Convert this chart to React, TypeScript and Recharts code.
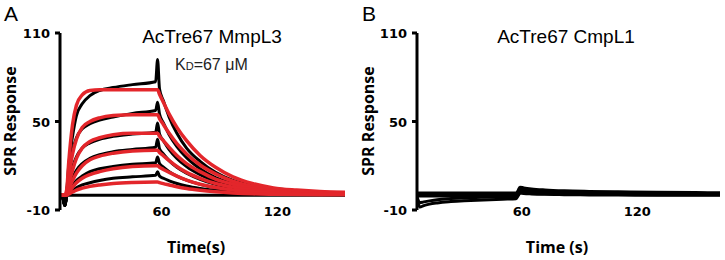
import React from "react"
import { LineChart, Line, XAxis, YAxis } from "recharts"

// Panel A: AcTre67 vs MmpL3 (black = measured, red = fit)
const timeA = [7.5, 9, 10, 11, 12, 14, 16, 19, 23, 28, 35, 45, 57, 58, 59, 61, 64, 68, 73, 80, 88, 97, 107, 118, 130, 142, 155]
const blackA = [
  [0, 0, 0, 0, 0, 0, 0, 0, 0, 0, 0, 0, 0, 0, 0, 0, 0, 0, 0, 0, 0, 0, 0, 0, 0, 0, 0],
  [0, -2, -7, 3, 20, 40, 54, 62, 67.5, 71, 73, 75, 77, 92, 72, 64, 53, 42, 32, 23, 15.5, 10, 6.5, 4.5, 3, 2, 1.5],
  [0, -2, -7, 2, 14, 30, 39, 45, 48.5, 51, 53, 55.5, 57.5, 63, 55, 49, 41, 33, 25.5, 18, 12, 8, 5.2, 3.5, 2.4, 1.7, 1.2],
  [0, -2, -7, 1, 8, 19, 26, 32, 35.5, 38, 40, 41.5, 42.7, 49, 41.5, 37, 31, 25, 19.5, 14, 9.5, 6.3, 4.2, 2.8, 1.9, 1.3, 1],
  [0, -2, -7, 0, 5, 12, 17, 21.5, 25, 27.5, 29.5, 31, 32.5, 38, 31.5, 28, 23.5, 19, 15, 10.8, 7.4, 5, 3.3, 2.2, 1.5, 1.1, 0.8],
  [0, -2, -7, 0, 3, 7, 10, 13, 16, 18, 19.5, 21, 22, 26, 21.5, 19, 16, 13, 10.2, 7.4, 5.1, 3.4, 2.3, 1.5, 1, 0.8, 0.6],
  [0, -2, -7, 0, 1, 3, 5, 7, 8.5, 10, 11.5, 12.5, 13.5, 16, 13, 11.5, 9.8, 8, 6.3, 4.6, 3.2, 2.2, 1.5, 1, 0.7, 0.5, 0.4],
]
const redA = [
  [0, 0, 0, 4, 22, 48, 61, 68, 71, 71.5, 71.5, 71.5, 71.5, 71.5, 68.5, 63, 55, 46, 37, 27, 19, 12.5, 8, 5, 3.5, 2.5, 2],
  [0, 0, 0, 2, 12, 28, 38, 46, 50, 52.5, 54, 54.5, 54.5, 54.5, 52, 48, 42, 35, 28, 20.5, 14.5, 9.5, 6, 4, 2.7, 2, 1.5],
  [0, 0, 0, 1, 7, 17, 25, 32, 36.5, 39, 41, 42, 42, 42, 40, 37, 32.5, 27, 21.5, 16, 11, 7.5, 4.8, 3, 2, 1.5, 1.2],
  [0, 0, 0, 0.5, 4, 10, 15, 20, 24, 26.5, 28.5, 30, 30.5, 30.5, 29, 26.8, 23.5, 19.5, 15.5, 11.5, 8, 5.5, 3.5, 2.3, 1.5, 1.1, 0.9],
  [0, 0, 0, 0.3, 2, 5.5, 8.5, 11.5, 14, 16, 18, 19.5, 20, 20, 19, 17.5, 15.5, 13, 10.3, 7.5, 5.3, 3.6, 2.3, 1.5, 1, 0.8, 0.6],
  [0, 0, 0, 0.1, 0.8, 2.2, 3.5, 4.8, 6, 7, 8, 8.7, 9, 9, 8.6, 7.9, 7, 5.8, 4.6, 3.4, 2.4, 1.6, 1, 0.7, 0.5, 0.4, 0.3],
]

// Panel B: AcTre67 vs CmpL1 (no binding)
const timeB = [5.5, 7, 9, 12, 16, 22, 30, 40, 50, 57, 58, 59, 61, 65, 72, 82, 95, 110, 130, 150, 163]
const blackB = [
  [1.5, 1.5, 1.5, 1.5, 1.5, 1.5, 1.5, 1.5, 1.5, 1.5, 3, 5.5, 5, 4.3, 3.6, 3, 2.6, 2.3, 2, 1.8, 1.7],
  [0.5, 0.5, 0.5, 0.5, 0.5, 0.5, 0.5, 0.5, 0.5, 0.5, 2, 4, 3.6, 3.1, 2.6, 2.2, 1.9, 1.7, 1.5, 1.3, 1.2],
  [-0.5, -0.5, -0.5, -0.5, -0.5, -0.5, -0.5, -0.5, -0.5, -0.5, 1, 3, 2.6, 2.2, 1.8, 1.5, 1.2, 1, 0.8, 0.7, 0.6],
  [-1, -5, -4.5, -3.8, -3, -2.3, -1.8, -1.4, -1.1, -1, 0, 2, 1.7, 1.3, 1, 0.8, 0.6, 0.5, 0.4, 0.3, 0.3],
  [-2, -8, -7, -6, -5.2, -4.4, -3.8, -3.2, -2.7, -2.4, -0.5, 1.5, 1.2, 0.9, 0.6, 0.4, 0.2, 0.1, 0, 0, 0],
]

const yTicks = [-10, 50, 110]
const xTicks = [60, 120]

const dataA = timeA.map((t, i) => {
  const row: Record<string, number> = { t }
  blackA.forEach((s, k) => (row[`b${k}`] = s[i]))
  redA.forEach((s, k) => (row[`r${k}`] = s[i]))
  return row
})

const dataB = timeB.map((t, i) => {
  const row: Record<string, number> = { t }
  blackB.forEach((s, k) => (row[`b${k}`] = s[i]))
  return row
})

const RED = "#e3262b"

const XTick = ({ x, y, payload }: any) => (
  <text x={x} y={y + 6} textAnchor="middle" fill="#000" fontFamily="DejaVu Sans" fontWeight="bold" fontSize={13}>
    {payload.value}
  </text>
)

const YTick = ({ x, y, payload }: any) => (
  <text x={x} y={y + 5} textAnchor="end" fill="#000" fontFamily="DejaVu Sans" fontWeight="bold" fontSize={13}>
    {payload.value}
  </text>
)

const abs = (left: number, top: number, extra: React.CSSProperties = {}): React.CSSProperties => ({
  position: "absolute",
  left,
  top,
  whiteSpace: "nowrap",
  lineHeight: 1,
  ...extra,
})

const title: React.CSSProperties = { fontFamily: "Liberation Sans, Arial", fontSize: 19, color: "#000" }
const axisTitle: React.CSSProperties = { fontFamily: "Open Sans", fontWeight: 700, fontSize: 16, color: "#000" }

function Axes({ domain, yWidth }: { domain: [number, number]; yWidth: number }) {
  return (
    <>
      <XAxis
        dataKey="t"
        type="number"
        domain={domain}
        allowDataOverflow
        ticks={xTicks}
        axisLine={false}
        tickLine={false}
        tickSize={0}
        tickMargin={0}
        height={50}
        tick={<XTick />}
      />
      <YAxis
        type="number"
        domain={[-10, 110]}
        ticks={yTicks}
        width={yWidth}
        axisLine={{ stroke: "#000", strokeWidth: 3 }}
        tickLine={{ stroke: "#000", strokeWidth: 3 }}
        tickSize={5}
        tickMargin={5}
        tick={<YTick />}
      />
    </>
  )
}

export default function App() {
  return (
    <div style={{ position: "absolute", left: 0, top: 0, width: 725, height: 260, background: "#fff" }}>
      <div style={{ position: "absolute", left: 0, top: 0 }}>
        <LineChart width={360} height={260} data={dataA} margin={{ top: 33, right: 15, bottom: 0, left: 0 }}>
          {Axes({ domain: [7.5, 155], yWidth: 60 })}
          {blackA.map((_, k) => (
            <Line key={`b${k}`} dataKey={`b${k}`} type="monotone" stroke="#000" strokeWidth={3} dot={false} isAnimationActive={false} />
          ))}
          {redA.map((_, k) => (
            <Line key={`r${k}`} dataKey={`r${k}`} type="monotone" stroke={RED} strokeWidth={3.5} dot={false} isAnimationActive={false} />
          ))}
        </LineChart>
      </div>
      <div style={{ position: "absolute", left: 360, top: 0 }}>
        <LineChart width={365} height={260} data={dataB} margin={{ top: 33, right: 5, bottom: 0, left: 0 }}>
          {Axes({ domain: [5.5, 163], yWidth: 57 })}
          {blackB.map((_, k) => (
            <Line key={`b${k}`} dataKey={`b${k}`} type="monotone" stroke="#000" strokeWidth={3} dot={false} isAnimationActive={false} />
          ))}
        </LineChart>
      </div>

      <div style={abs(4, 3, { fontFamily: "Liberation Sans, Arial", fontSize: 21 })}>A</div>
      <div style={abs(362, 3, { fontFamily: "Liberation Sans, Arial", fontSize: 21 })}>B</div>

      <div style={abs(212, 27, { ...title, transform: "translateX(-50%)" })}>AcTre67 MmpL3</div>
      <div style={abs(566, 27, { ...title, transform: "translateX(-50%)" })}>AcTre67 CmpL1</div>
      <div style={abs(175, 57, { fontFamily: "Liberation Sans, Arial", fontSize: 16, color: "#222" })}>
        K<span style={{ fontSize: 11 }}>D</span>=67 μM
      </div>

      <div style={abs(10, 121, { ...axisTitle, transform: "translate(-50%, -50%) rotate(-90deg)" })}>SPR Response</div>
      <div style={abs(368, 121, { ...axisTitle, transform: "translate(-50%, -50%) rotate(-90deg)" })}>SPR Response</div>

      <div style={abs(196, 247, { ...axisTitle, transform: "translate(-50%, -50%)" })}>Time(s)</div>
      <div style={abs(557, 247, { ...axisTitle, transform: "translate(-50%, -50%)" })}>Time (s)</div>
    </div>
  )
}
